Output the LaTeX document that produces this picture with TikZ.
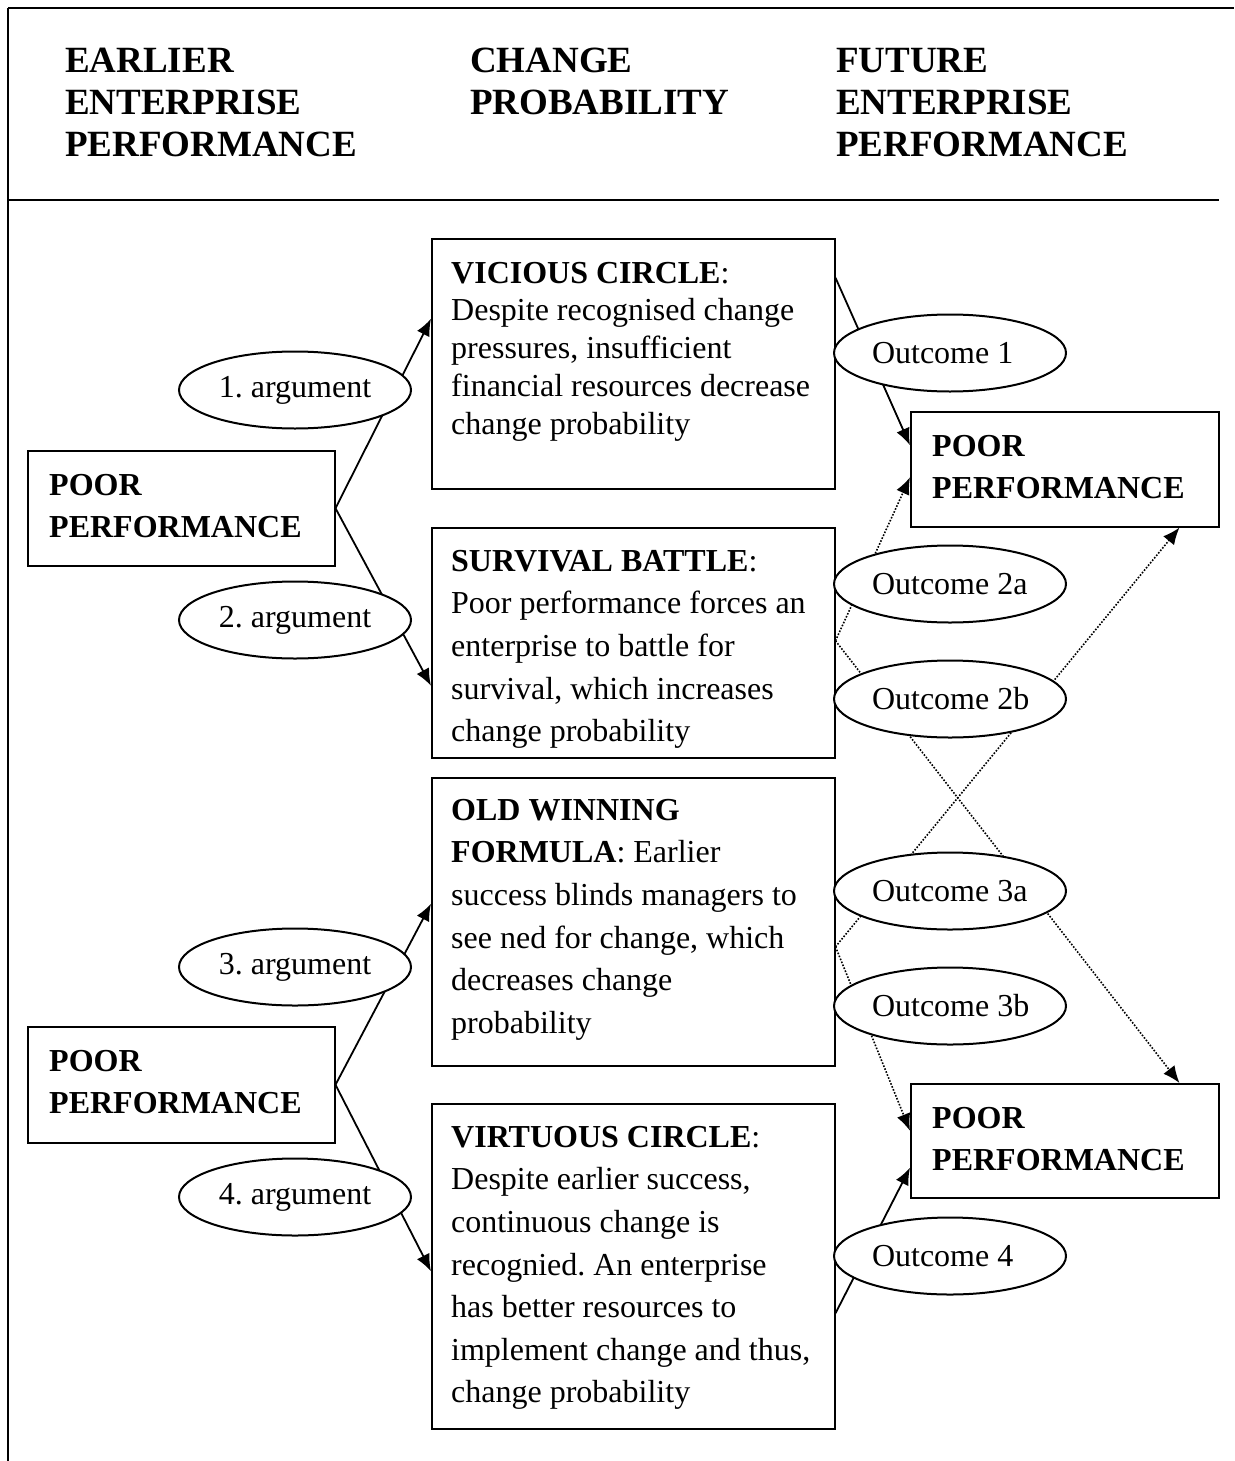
\documentclass[tikz,border=0pt]{standalone}
\usepackage{fontspec}
\setmainfont{Liberation Serif}
\usetikzlibrary{arrows.meta,shapes.geometric,calc}
\frenchspacing
\begin{document}
\begin{tikzpicture}[x=1pt,y=-1pt,
  frameline/.style={line width=2.4pt},
  box/.style={draw, line width=1.5pt, rectangle, anchor=north west, inner sep=0pt},
  boxtxt/.style={anchor=north west, inner sep=0pt, align=left, font=\fontsize{32}{42.6}\selectfont},
  headtxt/.style={anchor=north west, inner sep=0pt, align=left, font=\fontsize{37}{42}\selectfont\bfseries},
  oval/.style={ellipse, draw, line width=2pt, fill=white, minimum width=232pt, minimum height=77pt, inner sep=0pt, font=\fontsize{32}{38}\selectfont},
  conn/.style={line width=1.8pt, -{Latex[length=17pt,width=14pt]}},
  dconn/.style={line width=1.6pt, dash pattern=on 1.6pt off 1.6pt, -{Latex[length=17pt,width=14pt]}}
]
\useasboundingbox (0,0) rectangle (1234,1461);
% frame
\draw[frameline] (8,8) -- (1234,8);
\draw[line width=2pt] (8,8) -- (8,1461);
\draw[frameline] (8,200) -- (1219,200);
% headers
\node[headtxt] (h1) at (65,42.6) {\strut EARLIER\\ENTERPRISE\\PERFORMANCE};
\node[headtxt] (h2) at (470,42.6) {\strut CHANGE\\PROBABILITY};
\node[headtxt] (h3) at (836,42.6) {\strut FUTURE\\ENTERPRISE\\PERFORMANCE};
% boxes
\node[box, minimum width=307pt, minimum height=115pt] (pl1) at (27,450) {};
\node[box, minimum width=307pt, minimum height=116pt] (pl2) at (27,1026) {};
\node[box, minimum width=403pt, minimum height=250pt] (vc) at (431,238) {};
\node[box, minimum width=403pt, minimum height=230pt] (sb) at (431,527) {};
\node[box, minimum width=403pt, minimum height=288pt] (owf) at (431,777) {};
\node[box, minimum width=403pt, minimum height=325pt] (vir) at (431,1103) {};
\node[box, minimum width=308pt, minimum height=115pt] (rp1) at (910,411) {};
\node[box, minimum width=308pt, minimum height=114pt] (rp2) at (910,1083) {};
% box texts
\node[boxtxt, font=\fontsize{32}{42}\selectfont\bfseries] (tpl1) at (49,465.6) {\strut POOR\\PERFORMANCE};
\node[boxtxt, font=\fontsize{32}{42}\selectfont\bfseries] (tpl2) at (49,1041.6) {\strut POOR\\PERFORMANCE};
\node[boxtxt, font=\fontsize{32}{42}\selectfont\bfseries] (trp1) at (932,426.6) {\strut POOR\\PERFORMANCE};
\node[boxtxt, font=\fontsize{32}{42}\selectfont\bfseries] (trp2) at (932,1098.6) {\strut POOR\\PERFORMANCE};
\node[boxtxt, font=\fontsize{32}{37.75}\selectfont] (tvc) at (451,256.6) {\strut\textbf{VICIOUS CIRCLE}:\\Despite recognised change\\pressures, insufficient\\financial resources decrease\\change probability};
\node[boxtxt] (tsb) at (451,541.2) {\strut\textbf{SURVIVAL BATTLE}:\\Poor performance forces an\\enterprise to battle for\\survival, which increases\\change probability};
\node[boxtxt] (towf) at (451,790.2) {\strut\textbf{OLD WINNING}\\\textbf{FORMULA}: Earlier\\success blinds managers to\\see ned for change, which\\decreases change\\probability};
\node[boxtxt] (tvir) at (451,1117.2) {\strut\textbf{VIRTUOUS CIRCLE}:\\Despite earlier success,\\continuous change is\\recognied. An enterprise\\has better resources to\\implement change and thus,\\change probability};
% connectors
\draw[conn] (pl1.east) -- ([yshift=45pt]vc.west);
\draw[conn] (pl1.east) -- ([yshift=-43pt]sb.west);
\draw[conn] (pl2.east) -- ([yshift=18pt]owf.west);
\draw[conn] (pl2.east) -- ([yshift=-5pt]vir.west);
\draw[conn] ([yshift=86pt]vc.east) -- ([yshift=24pt]rp1.west);
\draw[dconn] ([yshift=2pt]sb.east) -- ([yshift=-8pt]rp1.west);
\draw[dconn] ([yshift=2pt]sb.east) -- ([xshift=-40pt]rp2.north east);
\draw[dconn] ([yshift=-25pt]owf.east) -- ([xshift=-40pt]rp1.south east);
\draw[dconn] ([yshift=-25pt]owf.east) -- ([yshift=10pt]rp2.west);
\draw[conn] ([yshift=-47pt]vir.east) -- ([yshift=-27pt]rp2.west);
% ovals
\node[oval] (a1) at (295,390) {1. argument};
\node[oval] (a2) at (295,620) {2. argument};
\node[oval] (a3) at (295,967) {3. argument};
\node[oval] (a4) at (295,1197) {4. argument};
\node[oval] (o1) at (950,353) {\makebox[156pt][l]{Outcome 1}};
\node[oval] (o2a) at (950,584) {\makebox[156pt][l]{Outcome 2a}};
\node[oval] (o2b) at (950,699) {\makebox[156pt][l]{Outcome 2b}};
\node[oval] (o3a) at (950,891) {\makebox[156pt][l]{Outcome 3a}};
\node[oval] (o3b) at (950,1006) {\makebox[156pt][l]{Outcome 3b}};
\node[oval] (o4) at (950,1256) {\makebox[156pt][l]{Outcome 4}};
\end{tikzpicture}
\end{document}
